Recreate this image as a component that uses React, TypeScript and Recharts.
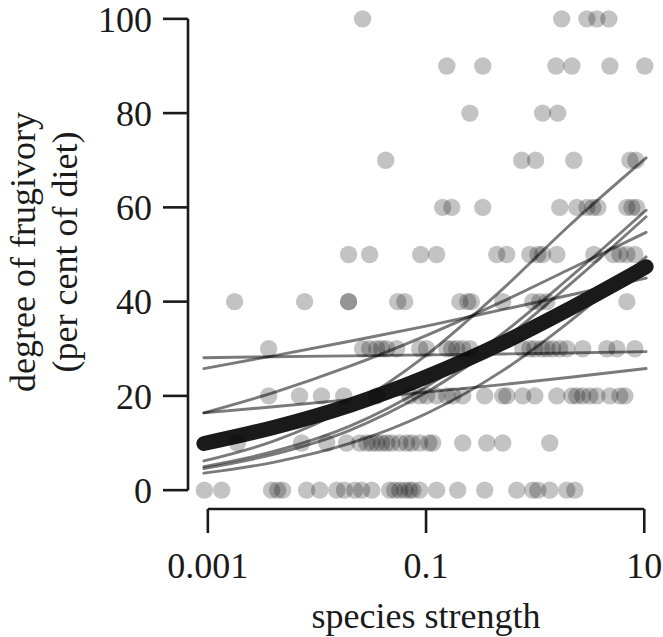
import React from "react";
import {
  ComposedChart,
  Scatter,
  Line,
  XAxis,
  YAxis,
  ReferenceLine,
} from "recharts";

// ---- Data: species strength (x) of observed points at each frugivory level ----
const strengthAt0 = [0.00093, 0.00134, 0.00384, 0.00436, 0.00484, 0.00804, 0.0106, 0.0152, 0.0179, 0.0222, 0.0257, 0.0318, 0.0464, 0.0516, 0.0574, 0.0638, 0.0706, 0.0755, 0.0874, 0.125, 0.195, 0.345, 0.679, 0.951, 1.06, 1.36, 1.95, 2.31];
const strengthAt10 = [0.00187, 0.00724, 0.0123, 0.0187, 0.0247, 0.0286, 0.0318, 0.0353, 0.0392, 0.0436, 0.0484, 0.0574, 0.0665, 0.074, 0.0874, 0.106, 0.115, 0.217, 0.36, 0.505, 1.36];
const strengthAt20 = [0.00361, 0.00693, 0.011, 0.0176, 0.0353, 0.071, 0.0874, 0.101, 0.125, 0.155, 0.176, 0.217, 0.345, 0.505, 0.549, 0.77, 0.993, 1.58, 2.17, 2.41, 2.73, 3.17, 3.68, 4.84, 5.98, 6.65];
const strengthAt30 = [0.00361, 0.0262, 0.0304, 0.0353, 0.0392, 0.0436, 0.0538, 0.0874, 0.101, 0.155, 0.172, 0.191, 0.217, 0.252, 0.77, 0.893, 0.993, 1.15, 1.28, 1.45, 1.68, 1.95, 2.73, 4.54, 5.61, 8.2];
const strengthAt40 = [0.00176, 0.00771, 0.0195, 0.0195, 0.055, 0.0638, 0.204, 0.241, 0.26, 0.505, 0.951, 1.1, 1.28, 6.93];
const strengthAt50 = [0.0195, 0.0304, 0.0892, 0.125, 0.445, 0.549, 0.893, 1.06, 1.17, 1.58, 3.45, 5.2, 5.98, 6.93, 8.2];
const strengthAt60 = [0.142, 0.172, 0.331, 1.68, 2.41, 2.98, 3.38, 3.76, 6.93, 7.7, 8.5];
const strengthAt70 = [0.0427, 0.754, 1.01, 2.26, 7.39, 8.37];
const strengthAt80 = [0.252, 1.17, 1.61];
const strengthAt90 = [0.155, 0.331, 1.55, 2.17, 4.84, 10.1];
const strengthAt100 = [0.0262, 1.75, 2.98, 3.68, 4.74];

const frugivoryLevels = [0, 10, 20, 30, 40, 50, 60, 70, 80, 90, 100];
const strengthRows = [strengthAt0, strengthAt10, strengthAt20, strengthAt30, strengthAt40, strengthAt50, strengthAt60, strengthAt70, strengthAt80, strengthAt90, strengthAt100];

// ---- Fitted curves ----
const curveStrength = [0.00092, 0.004, 0.02, 0.1, 0.5, 2, 10.4];
const speciesA = [28.1, 28.3, 28.5, 28.7, 28.9, 29.1, 29.4];
const speciesB = [25.8, 28.5, 31.6, 34.8, 38.3, 41.3, 45.0];
const speciesC = [16.4, 17.7, 19.2, 20.8, 22.4, 23.9, 25.8];
const speciesD = [16.4, 20.7, 26.3, 32.8, 40.0, 46.7, 54.7];
const speciesE = [6.2, 10.4, 17.7, 28.6, 42.6, 55.9, 70.5];
const speciesF = [5.0, 8.2, 13.6, 21.9, 33.2, 44.8, 59.4];
const speciesG = [4.6, 7.6, 12.7, 20.7, 31.7, 43.3, 58.0];
const speciesH = [3.6, 5.9, 9.9, 16.2, 25.3, 35.5, 49.5];
const overallFit = [9.9, 13.3, 18.0, 24.0, 31.2, 38.3, 47.4];

const xTicks = [0.001, 0.1, 10];
const yTicks = [0, 20, 40, 60, 80, 100];
const xDomain = [0.000658, 14.85];
const yDomain = [-4, 104];

// ---- built tables ----
const points = strengthRows.flatMap((row, i) =>
  row.map((s) => ({ x: s, y: frugivoryLevels[i] }))
);
const toCurve = (vals: number[]) => vals.map((v, i) => ({ x: curveStrength[i], y: v }));
const speciesCurves = [speciesA, speciesB, speciesC, speciesD, speciesE, speciesF, speciesG, speciesH].map(toCurve);
const overallCurve = toCurve(overallFit);

const FONT = "'Liberation Serif', 'Times New Roman', serif";
const INK = "#1a1a1a";

const Dot = (props: any) => {
  const { cx, cy } = props;
  if (cx == null || cy == null) return null;
  return <circle cx={cx} cy={cy} r={8.7} fill="#000" fillOpacity={0.235} />;
};

const YTitle = (props: any) => {
  const vb = props.viewBox || { x: 0, y: 0, width: 188, height: 509 };
  const cy = vb.y + 252;
  const x1 = vb.x + 35;
  const x2 = vb.x + 77;
  return (
    <g>
      <text
        x={x1}
        y={cy}
        transform={`rotate(-90 ${x1} ${cy})`}
        textAnchor="middle"
        fontFamily={FONT}
        fontSize={36}
        fill={INK}
      >
        degree of frugivory
      </text>
      <text
        x={x2}
        y={cy}
        transform={`rotate(-90 ${x2} ${cy})`}
        textAnchor="middle"
        fontFamily={FONT}
        fontSize={36}
        fill={INK}
      >
        (per cent of diet)
      </text>
    </g>
  );
};

const XTitle = (props: any) => {
  const vb = props.viewBox || { x: 188, y: 509, width: 475, height: 128 };
  return (
    <text
      x={426}
      y={vb.y + 119}
      textAnchor="middle"
      fontFamily={FONT}
      fontSize={36}
      fill={INK}
    >
      species strength
    </text>
  );
};

export default function App() {
  return (
    <div style={{ position: "absolute", left: 0, top: 0, background: "#fff" }}>
      <ComposedChart
        width={663}
        height={637}
        margin={{ top: 0, right: 0, bottom: 0, left: 0 }}
      >
        <XAxis
          dataKey="x"
          type="number"
          scale="log"
          domain={xDomain}
          allowDataOverflow
          ticks={xTicks}
          tickFormatter={(v: number) => String(v)}
          height={128}
          axisLine={false}
          tickLine={{ stroke: INK, strokeWidth: 2.6 }}
          tickSize={24}
          tickMargin={19}
          tick={{ fontFamily: FONT, fontSize: 36, fill: INK }}
          interval={0}
          label={<XTitle />}
        />
        <YAxis
          dataKey="y"
          type="number"
          domain={yDomain}
          allowDataOverflow
          ticks={yTicks}
          width={188}
          axisLine={false}
          tickLine={{ stroke: INK, strokeWidth: 2.6 }}
          tickSize={25}
          tickMargin={11}
          tick={{ fontFamily: FONT, fontSize: 36, fill: INK }}
          interval={0}
          label={<YTitle />}
        />
        <ReferenceLine
          segment={[{ x: xTicks[0], y: yDomain[0] }, { x: xTicks[2], y: yDomain[0] }]}
          stroke={INK}
          strokeWidth={2.6}
          ifOverflow="visible"
        />
        <ReferenceLine
          segment={[{ x: xDomain[0], y: yTicks[0] }, { x: xDomain[0], y: yTicks[5] }]}
          stroke={INK}
          strokeWidth={2.6}
          ifOverflow="visible"
        />
        <Scatter data={points} shape={<Dot />} isAnimationActive={false} />
        {speciesCurves.map((c, i) => (
          <Line
            key={i}
            data={c}
            dataKey="y"
            type="monotone"
            stroke="#000"
            strokeOpacity={0.52}
            strokeWidth={2.9}
            strokeLinecap="round"
            dot={false}
            activeDot={false}
            isAnimationActive={false}
          />
        ))}
        <Line
          data={overallCurve}
          dataKey="y"
          type="monotone"
          stroke={INK}
          strokeWidth={15}
          strokeLinecap="round"
          dot={false}
          activeDot={false}
          isAnimationActive={false}
        />
      </ComposedChart>
    </div>
  );
}
